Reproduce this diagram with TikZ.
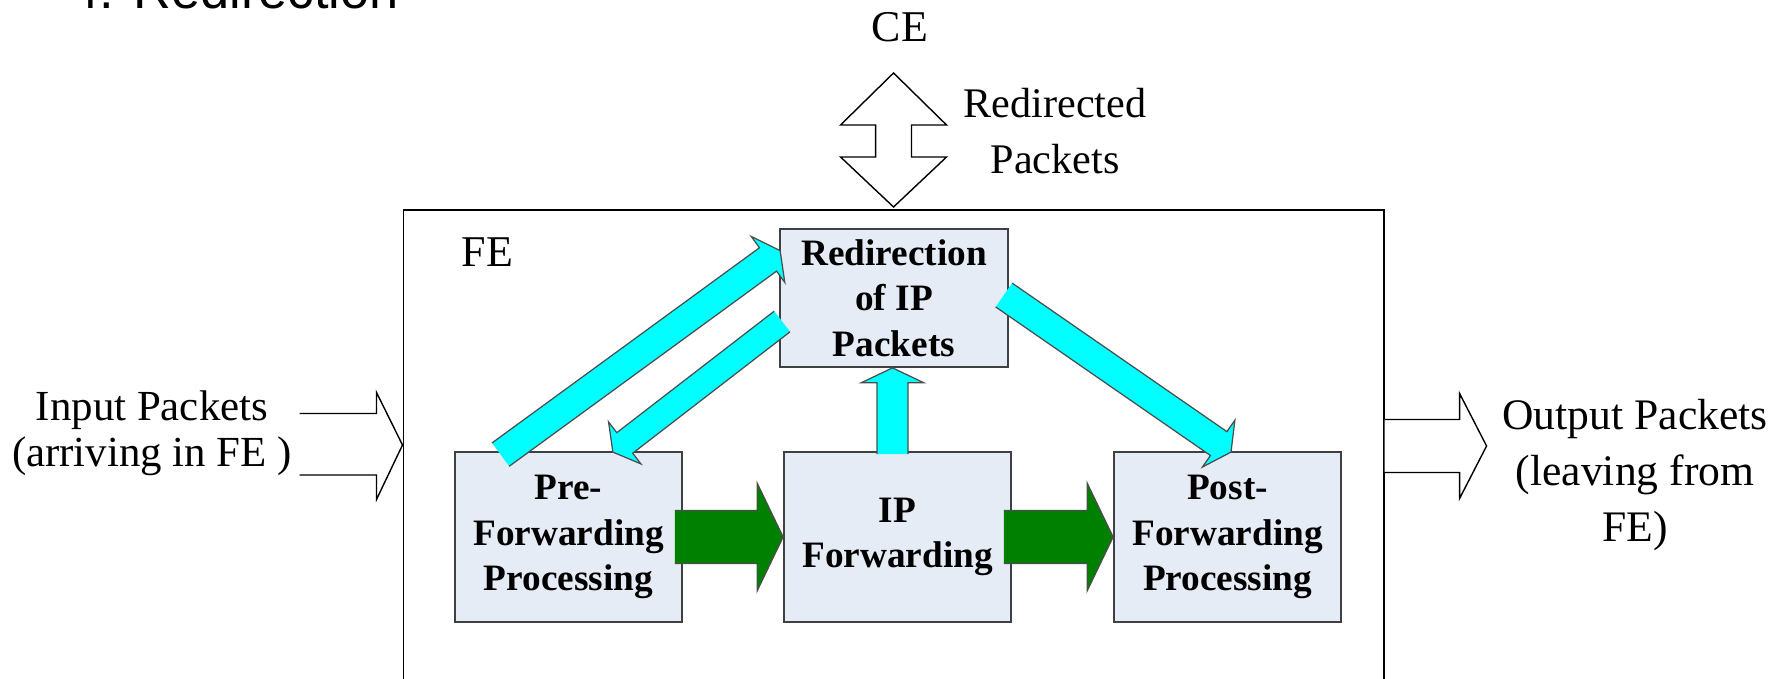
\documentclass[tikz,border=0pt]{standalone}
\usepackage{fontspec}
\setmainfont{Liberation Serif}
\newfontfamily\titlefont{Liberation Sans}
\usetikzlibrary{calc}

\definecolor{boxfill}{HTML}{E6ECF6}
\definecolor{flowcyan}{HTML}{00FFFF}
\definecolor{flowgreen}{HTML}{008000}

% block arrow: style, shaft half width, head half width, head length, tail, tip
\newcommand{\blockarrow}[6]{%
    \coordinate (ab) at ($(#6)!#4!(#5)$);
    \filldraw[#1] ($(#5)!#2!90:(#6)$) -- ($(ab)!#2!-90:(#5)$) -- ($(ab)!#3!-90:(#5)$) -- (#6)
        -- ($(ab)!#3!90:(#5)$) -- ($(ab)!#2!90:(#5)$) -- ($(#5)!#2!-90:(#6)$);
}

\begin{document}
\begin{tikzpicture}[
    stage/.style={draw=black!75, fill=boxfill, line width=0.5pt, inner sep=0pt, align=center,
        minimum width=2.27cm, minimum height=1.70cm, font=\bfseries\fontsize{10.6}{12.9}\selectfont},
    label/.style={inner sep=0pt, align=center, font=\fontsize{12}{15.9}\selectfont},
    flow/.style={fill=flowcyan, draw=black!70, line width=0.35pt},
    pass/.style={fill=flowgreen, draw=black!70, line width=0.35pt},
    hollow/.style={fill=white, draw=black, line width=0.4pt}]
    \useasboundingbox (0, 0) rectangle (17.89, 6.79);

    \node[anchor=base west, inner sep=0pt, font=\titlefont\fontsize{14.9}{17}\selectfont] (title) at(0.70, 6.70) {4. Redirection};

    % the forwarding element
    \node[anchor=north west] (fe) at(4.025, 4.70) [draw, line width=0.45pt, minimum width=9.805cm, minimum height=5cm, inner sep=0pt]{};
    \node[anchor=base west, inner sep=0pt, font=\fontsize{12.5}{15}\selectfont] (felabel) at(4.61, 4.12) {FE};
    \node[anchor=base, inner sep=0pt, font=\fontsize{12.5}{15}\selectfont] (ce) at(9.00, 6.37) {CE};

    \node[stage] (pre) at(5.685, 1.42) {Pre-\\Forwarding\\Processing};
    \node[stage] (ipf) at(8.975, 1.42) {IP\\Forwarding};
    \node[stage] (post) at(12.275, 1.42) {Post-\\Forwarding\\Processing};
    \node[stage, minimum width=2.28cm, minimum height=1.38cm] (redir) at(8.94, 3.81) {Redirection\\of IP\\Packets};

    % CE <-> FE
    \filldraw[hollow, shift={(fe.north)}] (0, 0.02) -- (0.53, 0.52) -- (0.18, 0.52) -- (0.18, 0.84) -- (0.53, 0.84) -- (0, 1.36)
        -- (-0.53, 0.84) -- (-0.18, 0.84) -- (-0.18, 0.52) -- (-0.53, 0.52) -- cycle;
    \node[label, anchor=north] (redirected) at(10.55, 5.91) {Redirected\\Packets};

    % packets in and out
    \coordinate (intip) at ($(fe.north west)+(0, -2.36)$);
    \draw[hollow, shift={(intip)}] (-1.03, 0.315) -- (-0.26, 0.315) -- (-0.26, 0.525) -- (0, 0) -- (-0.26, -0.545) -- (-0.26, -0.30) -- (-1.03, -0.30);
    \node[label, anchor=north, font=\fontsize{12.2}{13.2}\selectfont] (input) at(1.52, 2.89) {Input Packets\\(arriving in FE )};

    \coordinate (outtail) at ($(fe.north east)+(0, -2.37)$);
    \draw[hollow, shift={(outtail)}] (0, 0.265) -- (0.75, 0.265) -- (0.75, 0.525) -- (1.02, 0) -- (0.75, -0.525) -- (0.75, -0.265) -- (0, -0.265);
    \node[label, anchor=north, font=\fontsize{12.4}{15.9}\selectfont] (output) at(16.35, 2.80) {Output Packets\\(leaving from\\FE)};

    % normal path
    \coordinate (g1t) at ($(pre.east)+(-0.08, 0)$);
    \coordinate (g2t) at ($(ipf.east)+(-0.08, 0)$);
    \blockarrow{pass}{0.265cm}{0.54cm}{0.26cm}{g1t}{ipf.west}
    \blockarrow{pass}{0.265cm}{0.54cm}{0.26cm}{g2t}{post.west}

    % redirection paths
    \coordinate (c1t) at ($(pre.north west)+(0.465, -0.035)$);
    \coordinate (c1h) at ($(redir.north west)+(0.01, -0.225)$);
    \coordinate (c2t) at ($(redir.west)+(0.03, -0.235)$);
    \coordinate (c2h) at ($(pre.north east)+(-0.70, -0.01)$);
    \coordinate (c3t) at ($(ipf.north)+(-0.05, -0.03)$);
    \coordinate (c3h) at ($(redir.south)+(-0.015, 0)$);
    \coordinate (c4t) at ($(redir.east)+(-0.05, 0.03)$);
    \coordinate (c4h) at ($(post.north)+(0.035, -0.01)$);
    \blockarrow{flow}{0.145cm}{0.285cm}{0.15cm}{c1t}{c1h}
    \blockarrow{flow}{0.13cm}{0.265cm}{0.15cm}{c2t}{c2h}
    \blockarrow{flow}{0.155cm}{0.315cm}{0.15cm}{c3t}{c3h}
    \blockarrow{flow}{0.145cm}{0.285cm}{0.15cm}{c4t}{c4h}
\end{tikzpicture}
\end{document}
